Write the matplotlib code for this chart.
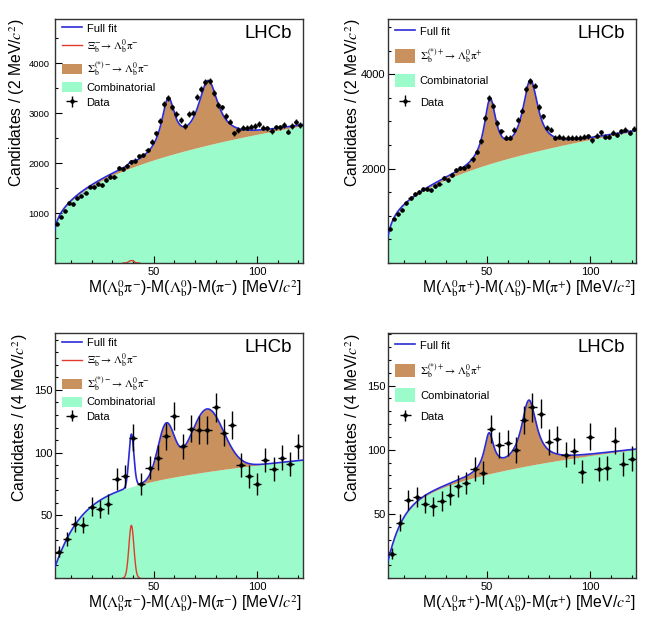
import numpy as np
import matplotlib.pyplot as plt
from matplotlib.lines import Line2D
from matplotlib.patches import Patch
from matplotlib.ticker import MultipleLocator, FixedLocator

plt.rcParams['font.family'] = ['Liberation Sans', 'DejaVu Sans']
plt.rcParams['mathtext.fontset'] = 'stix'

# bin centres (2 MeV bins on top, 4 MeV bins at the bottom), range 2-122 MeV
x_top = np.arange(3, 122, 2)
x_bot = np.arange(4, 121, 4)

# data, Lambda_b pi- (left) and Lambda_b pi+ (right)
counts_tl = [786, 932, 1052, 1200, 1186, 1300, 1353, 1413, 1533, 1520,
             1593, 1566, 1666, 1733, 1720, 1900, 1880, 1946, 2020, 2053,
             2146, 2166, 2266, 2433, 2600, 2853, 3186, 3300, 3120, 2986,
             2866, 2746, 2986, 3013, 3320, 3480, 3633, 3653, 3400, 3166,
             3120, 2946, 2833, 2600, 2666, 2713, 2713, 2733, 2746, 2786,
             2713, 2700, 2646, 2720, 2720, 2766, 2633, 2746, 2833, 2766]
counts_tr = [722, 932, 1038, 1128, 1269, 1375, 1459, 1507, 1564, 1564,
             1543, 1633, 1684, 1796, 1753, 1865, 1964, 2021, 2021, 2055,
             2196, 2349, 2581, 3073, 3494, 3332, 2968, 2791, 2652, 2652,
             2827, 3037, 3227, 3684, 3865, 3760, 3305, 3107, 2863, 2827,
             2652, 2673, 2652, 2652, 2652, 2652, 2652, 2673, 2686, 2602,
             2701, 2770, 2673, 2673, 2757, 2722, 2791, 2827, 2757, 2841]
counts_bl = [21, 31, 43, 42, 57, 55, 59, 79, 81, 112, 75, 88, 96, 113, 129,
             105, 119, 118, 118, 136, 116, 122, 90, 81, 75, 94, 87, 96, 91, 105]
counts_br = [19, 43, 61, 63, 58, 56, 60, 65, 72, 74, 85, 82, 116, 104, 105,
             100, 123, 133, 128, 106, 108, 96, 99, 83, 110, 85, 86, 107, 89, 93]

# fit results
# combinatorial: N * (1 - exp(-q/c)) * q**a   -> (N, a, c)
bkg_tl = (591, 0.32, 1.0)
bkg_tr = (578, 0.328, 1.48)
bkg_bl = (33.3, 0.216, 8.7)
bkg_br = (31.6, 0.24, 5.0)
# Sigma_b / Sigma_b* peaks: (mean, height, half width, lorentz fraction)
sig_tl = [(57.0, 1045, 4.0, 1.0), (76.3, 1250, 6.0, 1.0)]
sig_tr = [(51.5, 1305, 3.5, 1.0), (71.0, 1500, 4.5, 1.0)]
sig_bl = [(56.0, 42, 4.7, 0.0), (75.8, 50, 9.4, 0.0)]
sig_br = [(51.0, 29.4, 2.8, 1.0), (70.3, 50.4, 4.5, 1.0)]
# Xi_b- peak: (mean, height, sigma)
xi_tl = (39.2, 50, 1.2)
xi_bl = (39.2, 42, 1.2)

GREEN = '#9cfbca'
BROWN = '#c8915e'
BLUE = '#2a2ad8'
RED = '#e23a2a'


def combinatorial(q, n, a, c):
    return n * (1 - np.exp(-q / c)) * q ** a


def peak(q, m, h, w, eta):
    d = (q - m) / w
    return h * (eta / (1 + d ** 2) + (1 - eta) * np.exp(-np.log(2) * d ** 2))


def gaus(q, m, h, s):
    return h * np.exp(-0.5 * ((q - m) / s) ** 2)


def draw(ax, xc, counts, bw, bkg, sig, xi, charge, ylim, yticks, yminor,
         ytick_pad, ytick_size, ylab_x, leg_x, two_mev):
    q = np.linspace(2, 122, 1500)
    b = combinatorial(q, *bkg)
    s = sum(peak(q, *p) for p in sig)
    x_comp = gaus(q, *xi) if xi else np.zeros_like(q)
    ax.fill_between(q, 0, b, color=GREEN, lw=0, zorder=1)
    ax.fill_between(q, b, b + s, color=BROWN, lw=0, zorder=1)
    if xi:
        m = x_comp > 0.003 * xi[1]
        ax.plot(q[m], x_comp[m], color=RED, lw=1.0, zorder=2)
    ax.plot(q, b + s + x_comp, color=BLUE, lw=1.2, zorder=3)
    counts = np.array(counts, dtype=float)
    eb = ax.errorbar(xc, counts, xerr=bw / 2, yerr=np.sqrt(counts), fmt='o',
                     ms=2.2, color='k', elinewidth=1.0, capsize=0, zorder=4)

    ax.set_xlim(2, 122)
    ax.set_ylim(*ylim)
    ax.xaxis.set_major_locator(FixedLocator([50, 100]))
    ax.xaxis.set_minor_locator(MultipleLocator(10))
    ax.yaxis.set_major_locator(FixedLocator(yticks))
    ax.yaxis.set_minor_locator(MultipleLocator(yminor))
    ax.tick_params(which='both', direction='in', top=False, right=False)
    ax.tick_params(which='major', length=5, width=0.8)
    ax.tick_params(which='minor', length=2.5, width=0.8)
    ax.tick_params(axis='x', labelsize=8, pad=3)
    ax.tick_params(axis='y', labelsize=ytick_size, pad=ytick_pad)
    for sp in ax.spines.values():
        sp.set_color('#333333')
        sp.set_linewidth(1.0)

    pi = r'\mathrm{π}^{%s}' % charge
    ax.set_xlabel(r'M($\Lambda_{\mathrm{b}}^{0}%s$)-M($\Lambda_{\mathrm{b}}^{0}$)-M($%s$) [MeV/$c^{2}$]'
                  % (pi, pi), fontsize=11.3, loc='right')
    ax.xaxis.set_label_coords(1.0, -0.062)
    unit = '2' if two_mev else '4'
    ax.set_ylabel(r'Candidates / (%s MeV/$c^{2}$)' % unit, fontsize=11.3, loc='top')
    ax.yaxis.set_label_coords(ylab_x, 1.0)

    ax.text(0.958, 0.942, 'LHCb', transform=ax.transAxes, ha='right',
            va='center', fontsize=13.4)

    handles = [Line2D([], [], color=BLUE, lw=1.2)]
    labels = ['Full fit']
    if xi:
        handles.append(Line2D([], [], color=RED, lw=1.0))
        labels.append(r'$\Xi_{\mathrm{b}}^{-}\!\rightarrow\,\Lambda_{\mathrm{b}}^{0}\mathrm{π}^{-}$')
    handles += [Patch(color=BROWN, lw=0), Patch(color=GREEN, lw=0), eb]
    labels += [r'$\Sigma_{\mathrm{b}}^{(*)%s}\!\rightarrow\,\Lambda_{\mathrm{b}}^{0}\mathrm{π}^{%s}$'
               % (charge, charge), 'Combinatorial', 'Data']
    if xi:
        ax.legend(handles, labels, loc='upper left', bbox_to_anchor=(leg_x, 1.0),
                  frameon=False, fontsize=8, borderaxespad=0, borderpad=0.35,
                  handlelength=1.8, handleheight=1.0, handletextpad=0.45,
                  labelspacing=0.35)
    else:
        ax.legend(handles, labels, loc='upper left', bbox_to_anchor=(leg_x, 1.0),
                  frameon=False, fontsize=8, borderaxespad=0, borderpad=0.5,
                  handlelength=1.8, handleheight=1.5, handletextpad=0.45,
                  labelspacing=0.75)


fig = plt.figure(figsize=(6.45, 6.23), dpi=100)
ax_tl = fig.add_axes([0.0845, 0.5778, 0.3845, 0.3917])
ax_tr = fig.add_axes([0.6012, 0.5778, 0.3845, 0.3917])
ax_bl = fig.add_axes([0.0845, 0.0722, 0.3845, 0.3925])
ax_br = fig.add_axes([0.6012, 0.0722, 0.3845, 0.3925])

draw(ax_tl, x_top, counts_tl, 2, bkg_tl, sig_tl, xi_tl, '-', (0, 4890),
     [1000, 2000, 3000, 4000], 500, 3.5, 6.8, -0.112, 0.013, True)
draw(ax_tr, x_top, counts_tr, 2, bkg_tr, sig_tr, None, '+', (0, 5170),
     [2000, 4000], 500, 1.5, 8, -0.10, 0.006, True)
draw(ax_bl, x_bot, counts_bl, 4, bkg_bl, sig_bl, xi_bl, '-', (0, 195),
     [50, 100, 150], 10, 1.5, 8, -0.10, 0.013, False)
draw(ax_br, x_bot, counts_br, 4, bkg_br, sig_br, None, '+', (0, 190.6),
     [50, 100, 150], 10, 1.5, 8, -0.10, 0.008, False)

fig.savefig('out.png', dpi=100)
